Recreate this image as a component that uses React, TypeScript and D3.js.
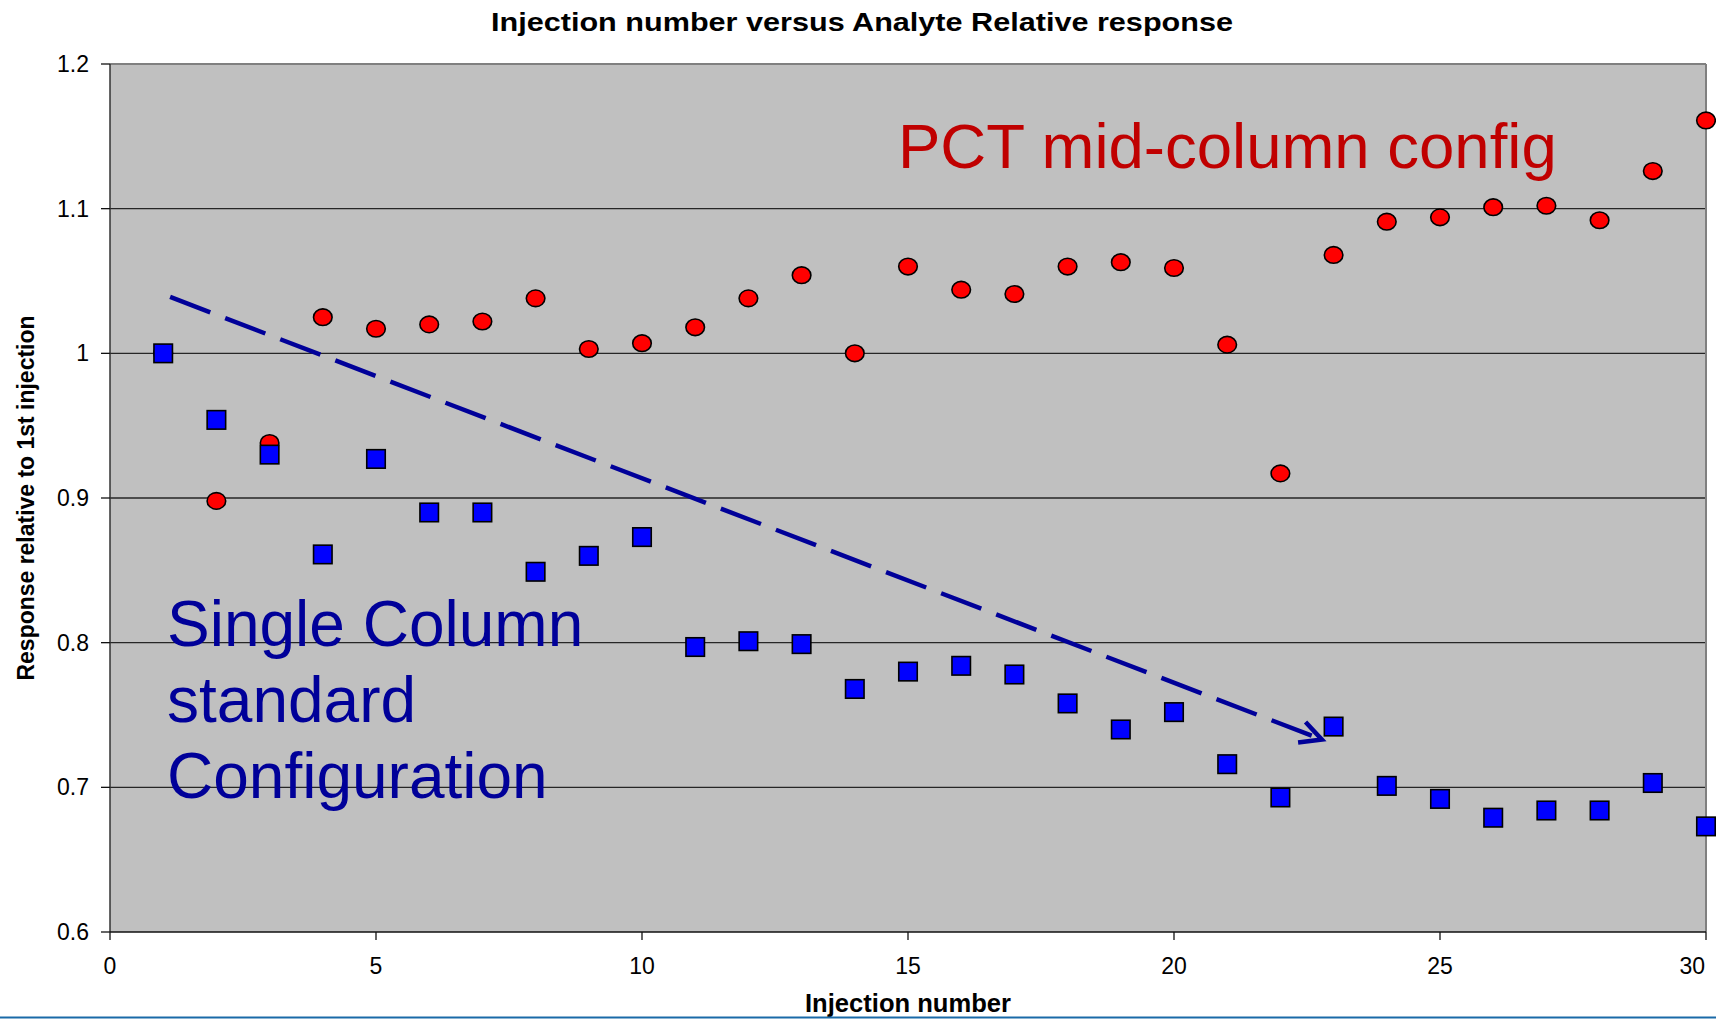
import React from "react";
import * as d3 from "d3";

const injections = d3.range(1, 31);
const pctMidColumn = [
  1.0, 0.898, 0.938, 1.025, 1.017, 1.02, 1.022, 1.038, 1.003, 1.007,
  1.018, 1.038, 1.054, 1.0, 1.06, 1.044, 1.041, 1.06, 1.063, 1.059,
  1.006, 0.917, 1.068, 1.091, 1.094, 1.101, 1.102, 1.092, 1.126, 1.161,
];
const singleColumn = [
  1.0, 0.954, 0.93, 0.861, 0.927, 0.89, 0.89, 0.849, 0.86, 0.873,
  0.797, 0.801, 0.799, 0.768, 0.78, 0.784, 0.778, 0.758, 0.74, 0.752,
  0.716, 0.693, 0.742, 0.701, 0.692, 0.679, 0.684, 0.684, 0.703, 0.673,
];
const xTicks = [0, 5, 10, 15, 20, 25, 30];
const yTicks = [0.6, 0.7, 0.8, 0.9, 1.0, 1.1, 1.2];
const trendStart = [1.13, 1.039];
const trendEnd = [22.78, 0.733];

const W = 1716;
const H = 1019;
const L = 110, R = 1706, T = 64, B = 932;

export default function App() {
  const x = d3.scaleLinear().domain([0, 30]).range([L, R]);
  const y = d3.scaleLinear().domain([0.6, 1.2]).range([B, T]);
  const fmt = (v: number) => (v === 1 ? "1" : d3.format(".1f")(v));

  const x1 = x(trendStart[0]), y1 = y(trendStart[1]);
  const x2 = x(trendEnd[0]), y2 = y(trendEnd[1]);
  const ang = Math.atan2(y2 - y1, x2 - x1);
  const back = ang + Math.PI;
  const headLen = 24;
  const a1 = back + (26 * Math.PI) / 180;
  const a2 = back - (28 * Math.PI) / 180;
  const head = d3.line()([
    [x2 + headLen * Math.cos(a1), y2 + headLen * Math.sin(a1)],
    [x2, y2],
    [x2 + headLen * Math.cos(a2), y2 + headLen * Math.sin(a2)],
  ]) as string;

  const font = "'Liberation Sans', Arial, sans-serif";
  const sq = 18.5;
  const lastTick = xTicks[xTicks.length - 1];

  return (
    <svg
      width={W}
      height={H}
      style={{ position: "absolute", left: 0, top: 0, background: "#fff" }}
      fontFamily={font}
    >
      <rect x={L} y={T} width={R - L} height={B - T} fill="#C0C0C0" />
      {yTicks.filter((t) => t > 0.6 && t < 1.2).map((t) => (
        <line key={t} x1={L} x2={R} y1={y(t)} y2={y(t)} stroke="#262626" strokeWidth={1.3} />
      ))}
      <line x1={L} x2={R} y1={T} y2={T} stroke="#808080" strokeWidth={2} />
      <line x1={R} x2={R} y1={T} y2={B} stroke="#808080" strokeWidth={2} />
      <line x1={L} x2={L} y1={T} y2={B} stroke="#333" strokeWidth={1.5} />
      <line x1={L} x2={R} y1={B} y2={B} stroke="#111" strokeWidth={1.5} />
      {yTicks.map((t) => (
        <g key={t}>
          <line x1={L - 9} x2={L} y1={y(t)} y2={y(t)} stroke="#111" strokeWidth={1.3} />
          <text x={89} y={y(t) + 8} textAnchor="end" fontSize={23} fill="#000">
            {fmt(t)}
          </text>
        </g>
      ))}
      {xTicks.map((t) => (
        <g key={t}>
          <line x1={x(t)} x2={x(t)} y1={B} y2={B + 8} stroke="#111" strokeWidth={1.3} />
          <text
            x={t === lastTick ? x(t) - 1 : x(t)}
            y={974}
            textAnchor={t === lastTick ? "end" : "middle"}
            fontSize={23}
            fill="#000"
          >
            {t}
          </text>
        </g>
      ))}

      {injections.map((n, i) => (
        <ellipse
          key={"r" + n}
          cx={x(n)}
          cy={y(pctMidColumn[i])}
          rx={9.3}
          ry={8.3}
          fill="#FF0000"
          stroke="#000"
          strokeWidth={1.6}
        />
      ))}
      {injections.map((n, i) => (
        <rect
          key={"b" + n}
          x={x(n) - sq / 2}
          y={y(singleColumn[i]) - sq / 2}
          width={sq}
          height={sq}
          fill="#0000FF"
          stroke="#000"
          strokeWidth={1.6}
        />
      ))}

      <line
        x1={x1}
        y1={y1}
        x2={x2 - 6 * Math.cos(ang)}
        y2={y2 - 6 * Math.sin(ang)}
        stroke="#000099"
        strokeWidth={4.5}
        strokeDasharray="43 16"
      />
      <path d={head} fill="none" stroke="#000099" strokeWidth={4.5} />

      <text x={898} y={168} fontSize={63.5} fill="#C00000">
        PCT mid-column config
      </text>
      <text fontSize={64} fill="#000099">
        <tspan x={167} y={646}>Single Column</tspan>
        <tspan x={167} y={722}>standard</tspan>
        <tspan x={167} y={798}>Configuration</tspan>
      </text>

      <text
        x={862}
        y={31}
        textAnchor="middle"
        fontSize={26}
        fontWeight="bold"
        textLength={742}
        lengthAdjust="spacingAndGlyphs"
      >
        Injection number versus Analyte Relative response
      </text>
      <text
        x={908}
        y={1012}
        textAnchor="middle"
        fontSize={26}
        fontWeight="bold"
        textLength={206}
        lengthAdjust="spacingAndGlyphs"
      >
        Injection number
      </text>
      <text
        transform={`translate(34, ${(T + B) / 2}) rotate(-90)`}
        textAnchor="middle"
        fontSize={23}
        fontWeight="bold"
        textLength={365}
        lengthAdjust="spacingAndGlyphs"
      >
        Response relative to 1st injection
      </text>
      <line x1={0} x2={W} y1={1017.5} y2={1017.5} stroke="#1A6AA8" strokeWidth={2} />
    </svg>
  );
}
